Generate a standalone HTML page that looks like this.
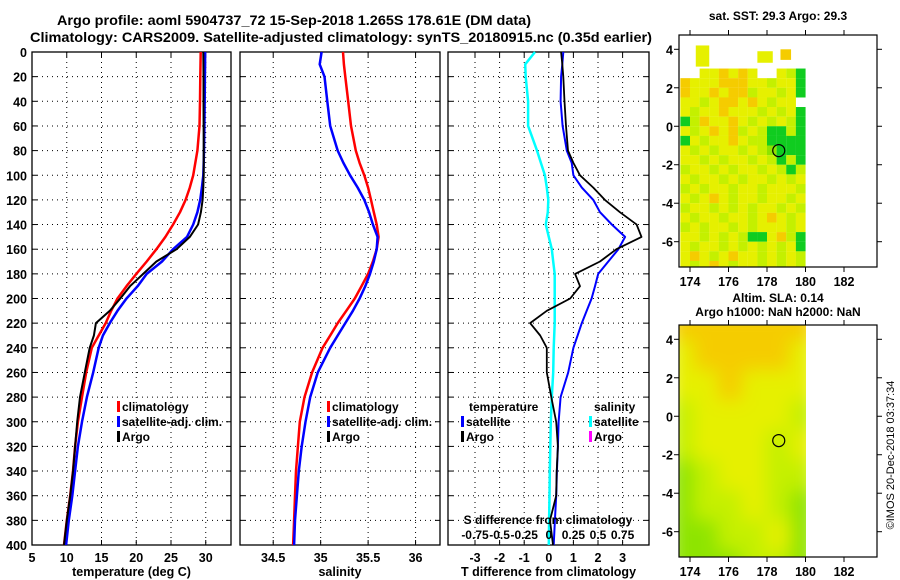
<!DOCTYPE html>
<html><head><meta charset="utf-8"><style>
html,body{margin:0;padding:0;background:#fff;}
svg{display:block;font-family:"Liberation Sans",sans-serif;font-weight:bold;}
</style></head><body>
<svg id="c" width="900" height="580" viewBox="0 0 900 580" xmlns="http://www.w3.org/2000/svg">
<defs><filter id="bl" x="-10%" y="-10%" width="120%" height="120%"><feGaussianBlur stdDeviation="9"/></filter>
<clipPath id="m2clip"><rect x="679" y="325" width="127" height="232"/></clipPath>
<clipPath id="m1clip"><rect x="679" y="35" width="198" height="232"/></clipPath></defs>
<text x="294" y="25" text-anchor="middle" font-size="13.5" textLength="474" lengthAdjust="spacingAndGlyphs">Argo profile: aoml 5904737_72 15-Sep-2018 1.265S 178.61E (DM data)</text>
<text x="341" y="42" text-anchor="middle" font-size="13.5" textLength="622" lengthAdjust="spacingAndGlyphs">Climatology: CARS2009. Satellite-adjusted climatology: synTS_20180915.nc (0.35d earlier)</text>
<g id="g"></g>
<text transform="translate(894,455) rotate(-90)" text-anchor="middle" font-size="11" font-weight="normal">©IMOS 20-Dec-2018 03:37:34</text>
</svg>
<script>
// ---- data ----
const depths = [0,10,20,40,60,80,90,100,110,120,130,140,150,160,170,180,190,200,210,220,230,240,260,280,300,320,340,360,380,400];
const tempClim = [29.27,29.25,29.22,29.17,29.1,28.8,28.5,28.2,27.7,27.1,26.3,25.3,24.2,22.9,21.5,20.0,18.6,17.3,16.4,15.6,14.6,13.6,12.8,12.2,11.6,11.2,10.9,10.5,10.0,9.6];
const tempSat = [29.9,29.9,29.88,29.85,29.8,29.75,29.7,29.65,29.45,29.2,28.8,28.2,27.3,25.3,23.7,21.5,20.2,18.6,17.3,16.2,15.2,14.6,13.8,12.9,12.2,11.6,11.2,10.8,10.3,9.9];
const tempArgo = [29.65,29.66,29.68,29.68,29.69,29.7,29.7,29.7,29.65,29.55,29.3,28.9,27.7,25.8,22.9,21.0,19.1,17.7,16.2,14.2,13.9,13.3,12.6,11.9,11.5,11.2,10.9,10.5,10.0,9.6];
const salClim = [35.235,35.245,35.26,35.29,35.32,35.37,35.41,35.46,35.5,35.53,35.56,35.59,35.61,35.59,35.55,35.5,35.43,35.36,35.27,35.18,35.1,35.02,34.91,34.83,34.78,34.76,34.74,34.73,34.72,34.71];
const salSat = [35.01,34.99,35.04,35.07,35.1,35.18,35.24,35.31,35.39,35.46,35.51,35.55,35.6,35.59,35.56,35.52,35.47,35.41,35.34,35.26,35.18,35.1,34.97,34.89,34.84,34.8,34.77,34.75,34.73,34.72];
const dTSat = [0.59,0.55,0.5,0.48,0.56,0.73,0.93,1.0,1.34,1.81,2.08,2.56,3.1,2.83,2.42,2.01,1.88,1.74,1.54,1.34,1.17,1.0,0.79,0.48,0.4,0.37,0.33,0.3,0.25,0.2];
const dTArgo = [0.5,0.55,0.59,0.64,0.7,0.78,1.0,1.27,1.81,2.28,2.89,3.57,3.77,2.75,2.08,1.07,1.27,0.87,-0.08,-0.76,-0.35,-0.08,-0.08,0.1,0.3,0.37,0.32,0.3,0.05,0.17];
const dSSat = [-0.14,-0.24,-0.235,-0.21,-0.21,-0.12,-0.08,-0.04,-0.02,-0.005,-0.01,-0.03,0.0,0.03,0.045,0.06,0.06,0.06,0.06,0.06,0.055,0.05,0.045,0.03,0.02,0.015,0.01,0.007,0.003,0.0];
const depthTicks = [0,20,40,60,80,100,120,140,160,180,200,220,240,260,280,300,320,340,360,380,400];
const tempTicks = [5,10,15,20,25,30];
const salTicks = [34.5,35,35.5,36];
const dTTicks = [-3,-2,-1,0,1,2,3];
const dSTickLabels = ["-0.75","-0.5","-0.25","0","0.25","0.5","0.75"];
const lonTicks = [174,176,178,180,182];
const latTicks = [4,2,0,-2,-4,-6];
// SST map rows (lat 3.0 down, 0.5 deg), lon 173.5..180 step 0.5
const sstRows = ["..YYOYOY..YLG","OYYYOOOYYLYYG","OYYOYOOLYYLYG","YYLYOOYOYLYY.","YLYYOYYYLYLYG","GLOYYOYLYLYLG","YLYOYOLYLGGLG","GYLYYOYLLGGGG","YLYLYYLYLgGGG","YYLYLYYLYLGLG","LYYLYLYYLYLGL","YLYYLYLYYLYLY","LYLYYLYYLYYYL","YLYOYLYYLYYLY","LYYLYLYLYYLYL","YLYYLYYLYOYLY","LYLYYLYLYYYLY","YYLYLYLGGYOLG","YLYYLYLYLYLYG","YOYLYOYYLYLYL","YLYOYLYYLYLYL"];
// SLA map coarse field (lat 5 down, 1.5 deg), lon 173.5..180 step ~1.1
const slaRows = ["OOOOOO","YOOOOY","YYOYYY","LYYYYL","LYYYLY","gLYYLL","gLLYLg","ggLLYg","gggLLg"];
// ---- helpers ----
const NS="http://www.w3.org/2000/svg", G=document.getElementById('g');
function mk(t,a,p){const e=document.createElementNS(NS,t);for(const k in a)e.setAttribute(k,a[k]);(p||G).appendChild(e);return e;}
const yD = d => 52 + d*1.2325;
const xT = v => 32 + (v-5)*6.95;
const xS = v => 240 + (v-34.15)*94.9;
const xDT = v => 548.8 + v*24.6;
const xDS = v => 548.8 + v*98.4;
const xLon = v => 690 + (v-174)*19.25;
const yLat = v => 49.3 + (4-v)*19.24;
const COL={Y:"#e6f000",L:"#c4f000",O:"#f5cc00",G:"#10cc20",g:"#8ee400"};

function panel(x0,x1,name,xs,ticks,labels,showY,title){
  const f=mk('rect',{x:x0,y:52,width:x1-x0,height:493,fill:'none',stroke:'#000','stroke-width':1.3});
  
  
  depthTicks.forEach(d=>{const y=yD(d);
    if(d>0&&d<400){const l=mk('line',{x1:x0,x2:x1,y1:y,y2:y,stroke:'#000','stroke-dasharray':'1,4','stroke-width':1});
      
      }
    mk('line',{x1:x0,x2:x0+5,y1:y,y2:y,stroke:'#000'});mk('line',{x1:x1-5,x2:x1,y1:y,y2:y,stroke:'#000'});
    if(showY){const t=mk('text',{x:27,y:y+5,'text-anchor':'end','font-size':12.5});t.textContent=d;
      
      }
  });
  ticks.forEach((v,i)=>{const x=xs(v);
    const l=mk('line',{x1:x,x2:x,y1:52,y2:545,stroke:'#000','stroke-dasharray':'1,4'});
    
    
    mk('line',{x1:x,x2:x,y1:540,y2:545,stroke:'#000'});mk('line',{x1:x,x2:x,y1:52,y2:57,stroke:'#000'});
    const t=mk('text',{x:x,y:562,'text-anchor':'middle','font-size':12.5});t.textContent=labels[i];
    
    
  });
  const tt=mk('text',{x:(x0+x1)/2,y:576,'text-anchor':'middle','font-size':12.5});tt.textContent=title;
  
  
}
function line(vals,xs,col,w,name){
  const pts=vals.map((v,i)=>xs(v).toFixed(1)+','+yD(depths[i]).toFixed(1)).join(' ');
  const p=mk('polyline',{points:pts,fill:'none',stroke:col,'stroke-width':w,'stroke-linejoin':'round'});
  
  
}
function legend(x,y,col,label,name){
  mk('rect',{x:x,y:y-10,width:3,height:11,fill:col});
  const t=mk('text',{x:x+5,y:y,'font-size':12});t.textContent=label;
  
  
}
// Panel 1
panel(32,231,'temperature-panel',xT,tempTicks,tempTicks,true,'temperature (deg C)');
line(tempClim,xT,'#f00',2.5,'temp-climatology-line');
line(tempSat,xT,'#00f',2.5,'temp-satellite-line');
line(tempArgo,xT,'#000',2,'temp-argo-line');
legend(117,411,'#f00','climatology','legend-climatology');
legend(117,426,'#00f','satellite-adj. clim.','legend-satellite');
legend(117,441,'#000','Argo','legend-argo');
// Panel 2
panel(240,440,'salinity-panel',xS,salTicks,salTicks,false,'salinity');
line(salClim,xS,'#f00',2.5,'sal-climatology-line');
line(salSat,xS,'#00f',2.5,'sal-satellite-line');
legend(327,411,'#f00','climatology','legend-sal-climatology');
legend(327,426,'#00f','satellite-adj. clim.','legend-sal-satellite');
legend(327,441,'#000','Argo','legend-sal-argo');
// Panel 3
panel(448,649,'difference-panel',xDT,dTTicks,dTTicks,false,'T difference from climatology');
line(dSSat,xDS,'#00ffff',2.5,'sal-diff-satellite-line');
line(dTSat,xDT,'#00f',2,'temp-diff-satellite-line');
line(dTArgo,xDT,'#000',1.8,'temp-diff-argo-line');
let t=mk('text',{x:469,y:411,'font-size':12});t.textContent='temperature';


legend(461,426,'#00f','satellite','legend-dt-satellite');
legend(461,441,'#000','Argo','legend-dt-argo');
t=mk('text',{x:594,y:411,'font-size':12});t.textContent='salinity';


legend(589,426,'#00ffff','satellite','legend-ds-satellite');
legend(589,441,'#ff00ff','Argo','legend-ds-argo');
t=mk('text',{x:548,y:524,'text-anchor':'middle','font-size':12});t.textContent='S difference from climatology';


[-0.75,-0.5,-0.25,0,0.25,0.5,0.75].forEach((v,i)=>{
  const tl=mk('text',{x:xDS(v),y:539,'text-anchor':'middle','font-size':12});tl.textContent=dSTickLabels[i];
  
  
});
// Maps
function mapFrame(oy,name){
  const f=mk('rect',{x:679,y:35+oy,width:198,height:232,fill:'none',stroke:'#000','stroke-width':1.2});
  
  
  lonTicks.forEach(v=>{const x=xLon(v);
    mk('line',{x1:x,x2:x,y1:30+oy,y2:35+oy,stroke:'#000'});mk('line',{x1:x,x2:x,y1:267+oy,y2:272+oy,stroke:'#000'});
    const tl=mk('text',{x:x,y:286+oy,'text-anchor':'middle','font-size':12.5});tl.textContent=v;
    
    });
  latTicks.forEach(v=>{const y=yLat(v)+oy;
    mk('line',{x1:674,x2:679,y1:y,y2:y,stroke:'#000'});mk('line',{x1:877,x2:882,y1:y,y2:y,stroke:'#000'});
    const tl=mk('text',{x:673,y:y+5,'text-anchor':'end','font-size':12.5});tl.textContent=v;
    
    });
  const c=mk('circle',{cx:xLon(178.61),cy:yLat(-1.265)+oy,r:6,fill:'none',stroke:'#000','stroke-width':1.2});
  
  
}
const m1=mk('g',{'clip-path':'url(#m1clip)'});


sstRows.forEach((row,r)=>{[...row].forEach((ch,c)=>{ if(COL[ch]){
  const lon=173.5+c*0.5, lat=3-r*0.5;
  const cell=mk('rect',{x:xLon(lon),y:yLat(lat),width:9.7,height:9.7,fill:COL[ch]},m1);
  
  }});});
[[174.3,4.2,0.7,1.1,'Y'],[177.5,3.9,0.8,0.6,'Y'],[178.7,4.0,0.55,0.55,'O']].forEach(p=>{
  const cell=mk('rect',{x:xLon(p[0]),y:yLat(p[1]),width:p[2]*19.25,height:p[3]*19.24,fill:COL[p[4]]},m1);
  
  });
const m2=mk('g',{'clip-path':'url(#m2clip)'});


const m2b=mk('g',{filter:'url(#bl)'},m2);
slaRows.forEach((row,r)=>{[...row].forEach((ch,c)=>{
  const cell=mk('rect',{x:670+c*24,y:310+r*30,width:25,height:31,fill:COL[ch]},m2b);
  
  });});
mapFrame(0,'sst-map');
mapFrame(290,'sla-map');
[['sat. SST: 29.3 Argo: 29.3',20,'sst-map-title'],['Altim. SLA: 0.14',302,'sla-map-title'],['Argo h1000: NaN h2000: NaN',316,'sla-map-subtitle']].forEach(a=>{
  const tl=mk('text',{x:778,y:a[1],'text-anchor':'middle','font-size':12});tl.textContent=a[0];
  
  });
</script>
</body></html>
